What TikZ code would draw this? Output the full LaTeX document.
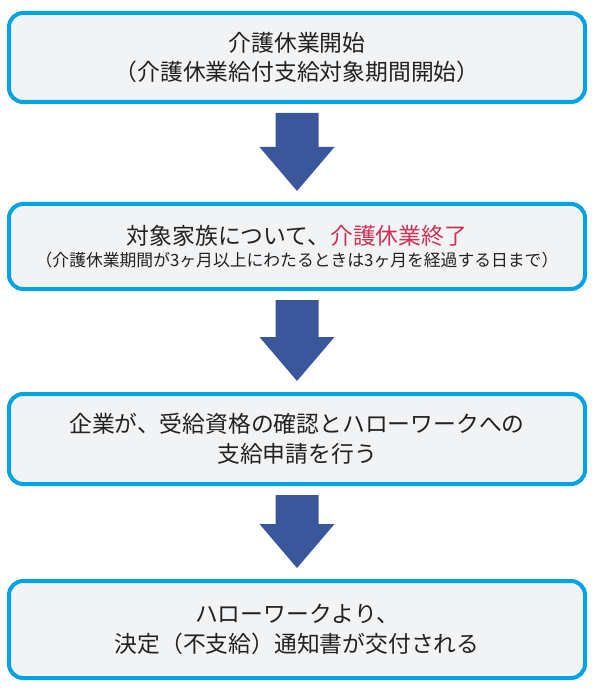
\documentclass[tikz,border=0pt]{standalone}
\usepackage{fontspec}
\setmainfont{Noto Sans CJK JP}
\usepackage{tikz}
\usetikzlibrary{calc}
\usepackage{xcolor}
\definecolor{boxcyan}{RGB}{0,164,228}
\definecolor{boxgray}{RGB}{242,243,245}
\definecolor{flowblue}{RGB}{59,87,155}
\definecolor{carered}{RGB}{204,51,85}
\definecolor{textdark}{RGB}{34,34,34}

\begin{document}
\begin{tikzpicture}[x=1pt, y=1pt,
    stepbox/.style={rectangle, draw=boxcyan, fill=boxgray, line width=4pt, rounded corners=14pt,
               minimum width=576pt, align=center, text=textdark,
               font=\fontsize{22.8}{29.5}\selectfont},
    downarrow/.style={fill=flowblue}
]
    \useasboundingbox (0,0) rectangle (594,-692);
    \node[stepbox, minimum height=89pt] (s1) at (297,-57.5) {介護休業開始\\（介護休業給付支給対象期間開始）};
    \node[stepbox, minimum height=85pt] (s2) at (297,-246.5) {対象家族について、{\color{carered}介護休業終了}\\[-7pt]{\fontsize{16.8}{20}\selectfont （介護休業期間が3ヶ月以上にわたるときは3ヶ月を経過する日まで）}};
    \node[stepbox, minimum height=90pt] (s3) at (297,-439) {企業が、受給資格の確認とハローワークへの\\支給申請を行う};
    \node[stepbox, minimum height=97pt] (s4) at (297,-629.5) {ハローワークより、\\決定（不支給）通知書が交付される};
    % block arrows between the steps
    \foreach \a/\b in {s1/s2,s2/s3,s3/s4}
        \fill[downarrow] ($(\a.south)+(-21.5,-9)$) -- ($(\a.south)+(21.5,-9)$)
            -- ($(\b.north)+(21.5,55)$) -- ($(\b.north)+(37.5,55)$) -- ($(\b.north)+(0,11)$)
            -- ($(\b.north)+(-37.5,55)$) -- ($(\b.north)+(-21.5,55)$) -- cycle;
\end{tikzpicture}
\end{document}
